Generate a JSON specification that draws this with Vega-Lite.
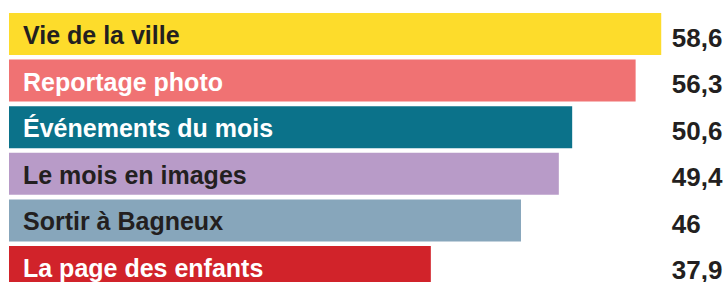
{
  "$schema": "https://vega.github.io/schema/vega-lite/v6.json",
  "width": 717,
  "height": 282,
  "autosize": {"type": "none"},
  "padding": {"left": 9, "top": 0, "right": 0, "bottom": 0},
  "background": "white",
  "config": {
    "view": {"stroke": null},
    "locale": {"number": {"decimal": ",", "thousands": " ", "grouping": [3], "currency": ["", " €"]}}
  },
  "data": {
    "values": [
      {"category": "Vie de la ville", "value": 58.6},
      {"category": "Reportage photo", "value": 56.3},
      {"category": "Événements du mois", "value": 50.6},
      {"category": "Le mois en images", "value": 49.4},
      {"category": "Sortir à Bagneux", "value": 46},
      {"category": "La page des enfants", "value": 37.9}
    ]
  },
  "encoding": {
    "y": {
      "field": "category",
      "type": "nominal",
      "sort": null,
      "axis": null,
      "scale": {"range": [13, 288], "paddingInner": 0.0987, "paddingOuter": 0}
    }
  },
  "layer": [
    {
      "mark": {"type": "bar", "cornerRadius": 0},
      "encoding": {
        "x": {"field": "value", "type": "quantitative", "axis": null, "scale": {"domain": [0, 64.42], "nice": false, "zero": true}},
        "color": {
          "field": "category",
          "type": "nominal",
          "legend": null,
          "scale": {
            "domain": ["Vie de la ville", "Reportage photo", "Événements du mois", "Le mois en images", "Sortir à Bagneux", "La page des enfants"],
            "range": ["#FDDC2B", "#F07273", "#0B728A", "#B89BC8", "#87A6BB", "#D1232A"]
          }
        }
      }
    },
    {
      "mark": {"type": "text", "align": "left", "baseline": "alphabetic", "dx": 14, "dy": 10, "font": "Liberation Sans", "fontWeight": "bold", "fontSize": 25},
      "encoding": {
        "x": {"datum": 0, "type": "quantitative"},
        "text": {"field": "category"},
        "color": {
          "condition": {"test": "indexof(['Reportage photo','Événements du mois','La page des enfants'], datum.category) >= 0", "value": "#FFFFFF"},
          "value": "#231F20"
        }
      }
    },
    {
      "mark": {"type": "text", "align": "left", "baseline": "alphabetic", "dy": 12.5, "font": "Liberation Sans", "fontWeight": "bold", "fontSize": 26, "color": "#231F20"},
      "encoding": {
        "x": {"datum": 59.55, "type": "quantitative"},
        "text": {"field": "value", "type": "quantitative", "format": ".1~f"}
      }
    }
  ]
}
